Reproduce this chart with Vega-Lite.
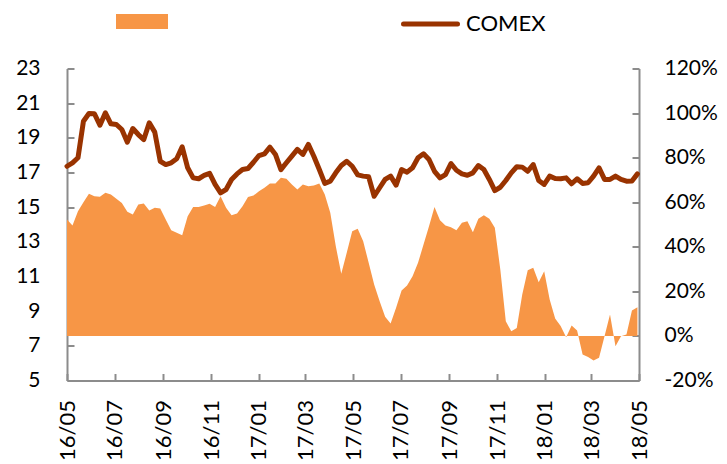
{
  "$schema": "https://vega.github.io/schema/vega-lite/v6.json",
  "width": 572,
  "height": 312,
  "autosize": "none",
  "padding": {"left": 67, "top": 68.5, "right": 88, "bottom": 83.5},
  "background": "white",
  "config": {
    "view": {"stroke": null},
    "font": "Lato",
    "axis": {
      "grid": false,
      "domainColor": "#8c8c8c",
      "domainWidth": 2,
      "tickColor": "#8c8c8c",
      "tickWidth": 2,
      "tickSize": -7,
      "labelFont": "Lato",
      "labelFontSize": 21,
      "labelColor": "#000000",
      "title": null
    },
    "legend": {"padding": 0, "labelFont": "Lato", "labelFontSize": 22, "labelColor": "#000000"}
  },
  "data": {
    "values": [
      {"date": "2016-05-01", "comex": 17.36, "pct": 52.2},
      {"date": "2016-05-08", "comex": 17.56, "pct": 49.6},
      {"date": "2016-05-15", "comex": 17.85, "pct": 56.0},
      {"date": "2016-05-22", "comex": 19.96, "pct": 60.0},
      {"date": "2016-05-29", "comex": 20.40, "pct": 63.8},
      {"date": "2016-06-05", "comex": 20.39, "pct": 62.7},
      {"date": "2016-06-12", "comex": 19.73, "pct": 62.4},
      {"date": "2016-06-19", "comex": 20.44, "pct": 64.2},
      {"date": "2016-06-26", "comex": 19.81, "pct": 63.5},
      {"date": "2016-07-03", "comex": 19.77, "pct": 61.5},
      {"date": "2016-07-10", "comex": 19.48, "pct": 59.7},
      {"date": "2016-07-17", "comex": 18.75, "pct": 55.7},
      {"date": "2016-07-24", "comex": 19.54, "pct": 54.5},
      {"date": "2016-07-31", "comex": 19.19, "pct": 59.0},
      {"date": "2016-08-07", "comex": 18.90, "pct": 59.4},
      {"date": "2016-08-14", "comex": 19.87, "pct": 56.3},
      {"date": "2016-08-21", "comex": 19.33, "pct": 57.5},
      {"date": "2016-08-28", "comex": 17.65, "pct": 57.2},
      {"date": "2016-09-04", "comex": 17.46, "pct": 52.2},
      {"date": "2016-09-11", "comex": 17.56, "pct": 47.4},
      {"date": "2016-09-18", "comex": 17.79, "pct": 46.3},
      {"date": "2016-09-25", "comex": 18.48, "pct": 45.2},
      {"date": "2016-10-02", "comex": 17.27, "pct": 53.7},
      {"date": "2016-10-09", "comex": 16.69, "pct": 57.9},
      {"date": "2016-10-16", "comex": 16.64, "pct": 57.9},
      {"date": "2016-10-23", "comex": 16.83, "pct": 58.5},
      {"date": "2016-10-30", "comex": 16.95, "pct": 59.3},
      {"date": "2016-11-06", "comex": 16.31, "pct": 57.9},
      {"date": "2016-11-13", "comex": 15.83, "pct": 62.7},
      {"date": "2016-11-20", "comex": 16.02, "pct": 57.5},
      {"date": "2016-11-27", "comex": 16.60, "pct": 54.2},
      {"date": "2016-12-04", "comex": 16.92, "pct": 54.9},
      {"date": "2016-12-11", "comex": 17.17, "pct": 58.2},
      {"date": "2016-12-18", "comex": 17.23, "pct": 62.3},
      {"date": "2016-12-25", "comex": 17.59, "pct": 63.0},
      {"date": "2017-01-01", "comex": 17.98, "pct": 64.9},
      {"date": "2017-01-08", "comex": 18.08, "pct": 66.5},
      {"date": "2017-01-15", "comex": 18.46, "pct": 68.4},
      {"date": "2017-01-22", "comex": 18.04, "pct": 68.4},
      {"date": "2017-01-29", "comex": 17.17, "pct": 71.0},
      {"date": "2017-02-05", "comex": 17.56, "pct": 70.5},
      {"date": "2017-02-12", "comex": 17.94, "pct": 67.9},
      {"date": "2017-02-19", "comex": 18.33, "pct": 65.7},
      {"date": "2017-02-26", "comex": 18.04, "pct": 67.9},
      {"date": "2017-03-05", "comex": 18.62, "pct": 67.2},
      {"date": "2017-03-12", "comex": 17.94, "pct": 67.5},
      {"date": "2017-03-19", "comex": 17.17, "pct": 68.4},
      {"date": "2017-03-26", "comex": 16.37, "pct": 63.5},
      {"date": "2017-04-02", "comex": 16.50, "pct": 55.3},
      {"date": "2017-04-09", "comex": 16.98, "pct": 40.3},
      {"date": "2017-04-16", "comex": 17.40, "pct": 27.9},
      {"date": "2017-04-23", "comex": 17.65, "pct": 37.3},
      {"date": "2017-04-30", "comex": 17.36, "pct": 47.0},
      {"date": "2017-05-07", "comex": 16.86, "pct": 48.1},
      {"date": "2017-05-14", "comex": 16.79, "pct": 42.5},
      {"date": "2017-05-21", "comex": 16.75, "pct": 32.8},
      {"date": "2017-05-28", "comex": 15.63, "pct": 23.1},
      {"date": "2017-06-04", "comex": 16.12, "pct": 15.6},
      {"date": "2017-06-11", "comex": 16.60, "pct": 8.6},
      {"date": "2017-06-18", "comex": 16.79, "pct": 5.6},
      {"date": "2017-06-25", "comex": 16.27, "pct": 12.6},
      {"date": "2017-07-02", "comex": 17.17, "pct": 20.4},
      {"date": "2017-07-09", "comex": 17.02, "pct": 22.6},
      {"date": "2017-07-16", "comex": 17.27, "pct": 26.8},
      {"date": "2017-07-23", "comex": 17.85, "pct": 32.8},
      {"date": "2017-07-30", "comex": 18.08, "pct": 41.0},
      {"date": "2017-08-06", "comex": 17.75, "pct": 49.2},
      {"date": "2017-08-13", "comex": 17.07, "pct": 57.9},
      {"date": "2017-08-20", "comex": 16.69, "pct": 51.9},
      {"date": "2017-08-27", "comex": 16.88, "pct": 49.6},
      {"date": "2017-09-03", "comex": 17.52, "pct": 48.8},
      {"date": "2017-09-10", "comex": 17.13, "pct": 47.4},
      {"date": "2017-09-17", "comex": 16.92, "pct": 50.8},
      {"date": "2017-09-24", "comex": 16.84, "pct": 51.5},
      {"date": "2017-10-01", "comex": 16.98, "pct": 46.5},
      {"date": "2017-10-08", "comex": 17.40, "pct": 52.6},
      {"date": "2017-10-15", "comex": 17.17, "pct": 54.2},
      {"date": "2017-10-22", "comex": 16.60, "pct": 52.6},
      {"date": "2017-10-29", "comex": 15.96, "pct": 48.5},
      {"date": "2017-11-05", "comex": 16.15, "pct": 29.8},
      {"date": "2017-11-12", "comex": 16.54, "pct": 6.6},
      {"date": "2017-11-19", "comex": 16.98, "pct": 2.1},
      {"date": "2017-11-26", "comex": 17.33, "pct": 3.6},
      {"date": "2017-12-03", "comex": 17.31, "pct": 18.6},
      {"date": "2017-12-10", "comex": 17.07, "pct": 29.5},
      {"date": "2017-12-17", "comex": 17.46, "pct": 30.6},
      {"date": "2017-12-24", "comex": 16.54, "pct": 24.1},
      {"date": "2017-12-31", "comex": 16.31, "pct": 29.0},
      {"date": "2018-01-07", "comex": 16.79, "pct": 16.3},
      {"date": "2018-01-14", "comex": 16.65, "pct": 7.8},
      {"date": "2018-01-21", "comex": 16.64, "pct": 4.4},
      {"date": "2018-01-28", "comex": 16.69, "pct": -0.6},
      {"date": "2018-02-04", "comex": 16.35, "pct": 4.7},
      {"date": "2018-02-11", "comex": 16.64, "pct": 2.4},
      {"date": "2018-02-18", "comex": 16.37, "pct": -8.3},
      {"date": "2018-02-25", "comex": 16.41, "pct": -9.5},
      {"date": "2018-03-04", "comex": 16.79, "pct": -11.0},
      {"date": "2018-03-11", "comex": 17.27, "pct": -9.8},
      {"date": "2018-03-18", "comex": 16.60, "pct": -0.1},
      {"date": "2018-03-25", "comex": 16.60, "pct": 9.6},
      {"date": "2018-04-01", "comex": 16.79, "pct": -4.6},
      {"date": "2018-04-08", "comex": 16.60, "pct": -0.1},
      {"date": "2018-04-15", "comex": 16.50, "pct": 0.6},
      {"date": "2018-04-22", "comex": 16.51, "pct": 11.4},
      {"date": "2018-04-29", "comex": 16.92, "pct": 12.9}
    ]
  },
  "encoding": {
    "x": {
      "field": "date",
      "type": "temporal",
      "scale": {
        "type": "utc",
        "domain": [
          {"year": 2016, "month": 5, "date": 1, "utc": true},
          {"year": 2018, "month": 5, "date": 1, "utc": true}
        ]
      },
      "axis": {
        "format": "%y/%m",
        "tickCount": {"interval": "month", "step": 2},
        "labelAngle": 270,
        "labelPadding": 26,
        "labelFontSize": 22,
        "labelFlush": false,
        "labelOverlap": false,
        "labelBound": false
      }
    }
  },
  "layer": [
    {
      "mark": {"type": "area", "color": "#F79646", "opacity": 1},
      "encoding": {
        "y": {
          "field": "pct",
          "type": "quantitative",
          "scale": {"domain": [-20, 120], "nice": false},
          "axis": {
            "orient": "right",
            "values": [-20, 0, 20, 40, 60, 80, 100, 120],
            "labelExpr": "datum.value + '%'",
            "labelPadding": 32
          }
        },
        "fill": {
          "datum": "area",
          "scale": {"range": ["#F79646"]},
          "legend": {
            "orient": "none",
            "legendX": 49,
            "legendY": -73,
            "title": null,
            "labelExpr": "''",
            "symbolType": "M-1,-0.29H1V0.29H-1Z",
            "symbolSize": 2704,
            "symbolStrokeWidth": 0,
            "symbolOpacity": 1
          }
        }
      }
    },
    {
      "mark": {"type": "line", "color": "#993300", "strokeWidth": 5, "strokeJoin": "round", "strokeCap": "round"},
      "encoding": {
        "y": {
          "field": "comex",
          "type": "quantitative",
          "scale": {"domain": [5, 23], "nice": false},
          "axis": {
            "orient": "left",
            "values": [5, 7, 9, 11, 13, 15, 17, 19, 21, 23],
            "labelPadding": 34
          }
        },
        "stroke": {
          "datum": "COMEX",
          "scale": {"range": ["#993300"]},
          "legend": {
            "orient": "none",
            "legendX": 334,
            "legendY": -74,
            "title": null,
            "symbolType": "stroke",
            "symbolSize": 2916,
            "symbolStrokeWidth": 5,
            "labelFontSize": 22,
            "labelOffset": 6,
            "encode": {"symbols": {"update": {"strokeCap": {"value": "round"}}}}
          }
        }
      }
    }
  ],
  "resolve": {"scale": {"y": "independent"}}
}
